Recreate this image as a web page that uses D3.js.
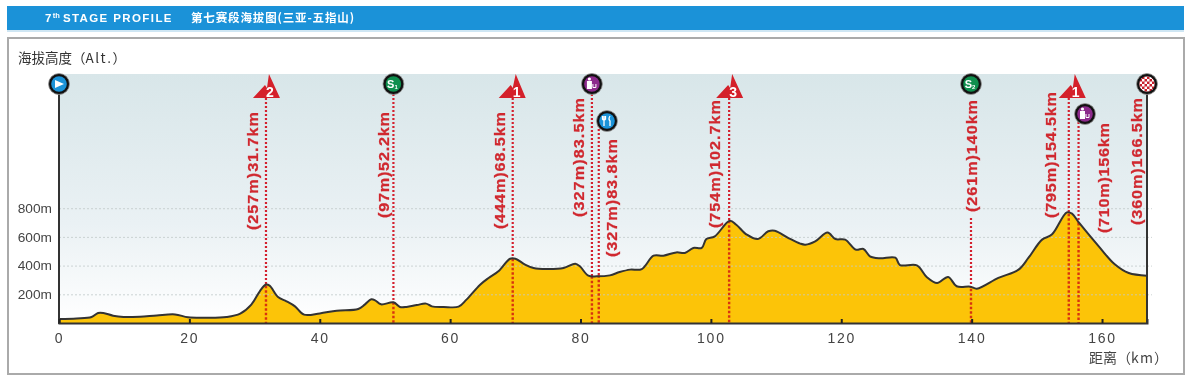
<!DOCTYPE html>
<html>
<head>
<meta charset="utf-8">
<script src="https://cdn.jsdelivr.net/npm/d3@7"></script>
<style>
  html, body { margin: 0; padding: 0; background: #fff; }
  svg { display: block; filter: blur(0.4px); }
  text { font-family: "Liberation Sans", Arial, sans-serif; }
  .cjk { font-family: "Noto Sans CJK SC", sans-serif; }
</style>
</head>
<body>
<script>
// elevation profile
const profileKm = [0, 2.7, 5, 6, 6.8, 8.3, 9.9, 12.4, 15, 17.8, 19.8, 22.6, 25.7, 27.8, 29.5, 30.8, 31.7, 32.3, 33.6, 34.9, 36.2, 37.6,
  40, 42.6, 45.9, 46.9, 47.9, 48.5, 49.4, 51.3, 52.3, 53.3, 54.9, 56.3, 57.2, 59, 61.3, 62.5, 64.6, 65.9, 67.4, 69.2, 70, 71.5, 72.8,
  74.8, 77.4, 79.2, 79.9, 81.2, 82.5, 84.5, 86, 87.6, 89.4, 91.2, 92.7, 94.7, 96, 97.3, 98.6, 99.3, 100.6, 102.9, 103.9, 105.5, 107.2,
  108.8, 109.8, 111.9, 113.7, 114.5, 116, 117.9, 119.1, 120.6, 122.2, 123.4, 124.4, 125.9, 128.3, 129, 131.6, 133.1, 134.7, 136.4,
  137.7, 139.8, 140.8, 144.1, 147.2, 148.7, 150.8, 152.3, 154.6, 155.4, 156.5, 159.5, 162, 164.1, 166.9];
const profileAlt = [28, 32, 42, 70, 70, 51, 42, 44, 53, 60, 40, 37, 42, 65, 128, 221, 267, 260, 181, 151, 116, 58,
  67, 86, 98, 128, 165, 158, 130, 144, 112, 112, 125, 135, 116, 112, 114, 163, 267, 314, 360, 448, 448, 407, 383,
  376, 383, 413, 395, 330, 325, 332, 355, 372, 376, 469, 469, 492, 488, 523, 523, 585, 604, 713, 685, 616, 585,
  639, 643, 592, 553, 546, 569, 630, 585, 581, 511, 516, 465, 451, 455, 404, 402, 321, 279, 321,
  256, 253, 239, 314, 372, 453, 581, 616, 771, 762, 697, 534, 407, 348, 330];

const kmTicks = [0, 20, 40, 60, 80, 100, 120, 140, 160];
const altTicks = [200, 400, 600, 800];

// race points, km is where the mark sits on the axis
const markerKm = [31.75, 51.3, 69.6, 81.75, 82.8, 102.8, 139.9, 154.9, 156.4];
const markerLabels = ["(257m)31.7km", "(97m)52.2km", "(444m)68.5km", "(327m)83.5km", "(327m)83.8km",
  "(754m)102.7km", "(261m)140km", "(795m)154.5km", "(710m)156km"];
const markerKinds = ["2", "S1", "1", "wc", "food", "3", "S2", "1", "wc"];
const finishKm = 166.9;
const finishLabel = "(360m)166.5km";

// label placement: centre x, top y, bottom y
const labelBoxes = [[253, 112, 230], [384, 112, 218], [500, 112, 229], [579, 98, 217], [612, 139, 257],
  [715, 100, 228], [972, 100, 212], [1051, 92, 218], [1104, 123, 233], [1137, 98, 225]];

const width = 1192, height = 384;
const plotTop = 74, baseY = 323;

const svg = d3.select("body").append("svg").attr("width", width).attr("height", height);
const defs = svg.append("defs");

const sky = defs.append("linearGradient").attr("id", "sky").attr("x1", 0).attr("y1", 0).attr("x2", 0).attr("y2", 1);
sky.append("stop").attr("offset", "0%").attr("stop-color", "#d8e6e9");
sky.append("stop").attr("offset", "60%").attr("stop-color", "#eaf1f4");
sky.append("stop").attr("offset", "100%").attr("stop-color", "#ffffff");

const check = defs.append("pattern").attr("id", "check").attr("width", 5).attr("height", 5)
  .attr("patternUnits", "userSpaceOnUse");
check.append("rect").attr("width", 5).attr("height", 5).attr("fill", "#c8202c");
check.append("rect").attr("width", 2.5).attr("height", 2.5).attr("fill", "#fff");
check.append("rect").attr("x", 2.5).attr("y", 2.5).attr("width", 2.5).attr("height", 2.5).attr("fill", "#fff");

// header band
svg.append("rect").attr("x", 7).attr("y", 6).attr("width", 1177).attr("height", 24).attr("fill", "#1b92d8");
svg.append("rect").attr("x", 7).attr("y", 30).attr("width", 1177).attr("height", 2).attr("fill", "#cfe6f3");
const head = svg.append("text").attr("x", 45).attr("y", 22).attr("fill", "#fff")
  .attr("font-weight", "bold").attr("font-size", 11.5).attr("letter-spacing", 1.4);
head.append("tspan").text("7");
head.append("tspan").attr("dy", -4).attr("font-size", 7.5).attr("letter-spacing", 0).text("th");
head.append("tspan").attr("dy", 4).attr("dx", 3).text("STAGE PROFILE");
svg.append("text").attr("class", "cjk").attr("x", 191).attr("y", 22).attr("fill", "#fff")
  .attr("font-weight", "bold").attr("font-size", 11.5).attr("textLength", 163).text("第七赛段海拔图(三亚-五指山)");

// frame
svg.append("rect").attr("x", 8).attr("y", 38).attr("width", 1176).attr("height", 336)
  .attr("fill", "#fff").attr("stroke", "#aaaaaa").attr("stroke-width", 2);

const altTitle = svg.append("text").attr("class", "cjk").attr("x", 18).attr("y", 63).attr("font-size", 13.5).attr("fill", "#333");
altTitle.append("tspan").text("海拔高度（");
altTitle.append("tspan").attr("letter-spacing", 1.5).text("Alt.");
altTitle.append("tspan").text("）");
const kmTitle = svg.append("text").attr("class", "cjk").attr("x", 1089).attr("y", 363).attr("font-size", 14).attr("fill", "#444");
kmTitle.append("tspan").text("距离（");
kmTitle.append("tspan").attr("letter-spacing", 1.2).text("km");
kmTitle.append("tspan").text("）");

// scales
const x = d3.scaleLinear().domain([0, finishKm]).range([59, 1147]);
const y = d3.scaleLinear().domain([0, 800]).range([baseY, 208.2]);

svg.append("rect").attr("x", x(0)).attr("y", plotTop).attr("width", x(finishKm) - x(0)).attr("height", baseY - plotTop)
  .attr("fill", "url(#sky)");

const points = profileKm.map((km, i) => [km, profileAlt[i]]);
const curve = d3.curveCatmullRom.alpha(0.5);
svg.append("path").datum(points)
  .attr("fill", "#fcc408")
  .attr("d", d3.area().x(d => x(d[0])).y0(baseY).y1(d => y(d[1])).curve(curve));

// y axis with the dotted grid
const yAxis = svg.append("g").attr("transform", "translate(" + x(0) + ",0)")
  .call(d3.axisLeft(y).tickValues(altTicks).tickFormat(d => d + "m").tickSize(-1093).tickPadding(7));
yAxis.select(".domain").remove();
yAxis.selectAll("line").attr("stroke", "#c2c9c9").attr("stroke-opacity", 0.8).attr("stroke-dasharray", "2 2");
yAxis.selectAll("text").attr("font-size", 13.7).attr("fill", "#444").style("font-family", "Liberation Sans");

// race point lines, redder above the profile and more orange inside it
const lineTops = { "2": 98, "1": 98, "3": 98, S1: 94, S2: 218, wc: 94, food: 121 };
markerKm.forEach((km, i) => {
  const top = i === 8 ? 114 : lineTops[markerKinds[i]];
  const alt = y(profileAlt[d3.bisectLeft(profileKm, km)]);
  svg.append("line").attr("x1", x(km)).attr("x2", x(km)).attr("y1", top).attr("y2", alt)
    .attr("stroke", "#d4202e").attr("stroke-width", 2.2).attr("stroke-dasharray", "2 2");
  svg.append("line").attr("x1", x(km)).attr("x2", x(km)).attr("y1", alt).attr("y2", baseY)
    .attr("stroke", "#d8330f").attr("stroke-width", 2.4).attr("stroke-dasharray", "2.5 2");
});

// profile outline and side lines
svg.append("path").datum(points)
  .attr("fill", "none").attr("stroke", "#333").attr("stroke-width", 2)
  .attr("d", d3.line().x(d => x(d[0])).y(d => y(d[1])).curve(curve));
svg.append("line").attr("x1", x(0)).attr("x2", x(0)).attr("y1", 90).attr("y2", baseY + 1).attr("stroke", "#333").attr("stroke-width", 2);
svg.append("line").attr("x1", x(finishKm)).attr("x2", x(finishKm)).attr("y1", 90).attr("y2", baseY + 1).attr("stroke", "#333").attr("stroke-width", 2);

// x axis, ticks point up
const xAxis = svg.append("g").attr("transform", "translate(0," + baseY + ")")
  .call(d3.axisBottom(x).tickValues(kmTicks).tickSize(-4).tickPadding(10));
xAxis.select(".domain").attr("stroke", "#333").attr("stroke-width", 2);
xAxis.selectAll("line").attr("stroke", "#222").attr("stroke-width", 2);
xAxis.selectAll("text").attr("font-size", 14).attr("fill", "#444").attr("letter-spacing", 1.8).style("font-family", "Liberation Sans");

// rotated labels, a bit wider than the font and with some air between letters
const labelStretch = 1.08;
markerLabels.concat(finishLabel).forEach((label, i) => {
  const b = labelBoxes[i];
  svg.append("text")
    .attr("transform", "translate(" + b[0] + "," + b[2] + ") rotate(-90) scale(" + labelStretch + ",1)")
    .attr("dy", "0.36em")
    .attr("font-size", 15).attr("font-weight", "bold").attr("fill", "#d0282f")
    .attr("stroke", "#d0282f").attr("stroke-width", 0.25)
    .attr("textLength", (b[2] - b[1]) / labelStretch).attr("lengthAdjust", "spacing")
    .text(label);
});

// icons
function ball(cx, cy, fill) {
  const g = svg.append("g").attr("transform", "translate(" + cx + "," + cy + ")");
  g.append("circle").attr("r", 10.5).attr("fill", "#111").attr("stroke", "#999").attr("stroke-width", 0.8);
  g.append("circle").attr("r", 7.8).attr("fill", fill);
  return g;
}
function climb(cx, label, peak, left, right) {
  const g = svg.append("g").attr("transform", "translate(" + cx + ",0)");
  const path = d3.path();
  path.moveTo(left, 98); path.lineTo(left + 12, 85); path.lineTo(left + 14, 88);
  path.lineTo(peak, 74); path.lineTo(right, 98); path.closePath();
  g.append("path").attr("d", path.toString()).attr("fill", "#d4202a");
  g.append("text").attr("x", peak + 1).attr("y", 97).attr("text-anchor", "middle")
    .attr("font-size", 14).attr("font-weight", "bold").attr("fill", "#fff").text(label);
}
function sprint(cx, cy, sub) {
  const g = ball(cx, cy, "#0f8f4e");
  const t = g.append("text").attr("y", 4).attr("x", -1).attr("text-anchor", "middle").attr("fill", "#fff")
    .attr("font-size", 11).attr("font-weight", "bold");
  t.append("tspan").text("S");
  t.append("tspan").attr("font-size", 6).attr("dy", 1).text(sub);
}
function toilet(cx, cy) {
  const g = ball(cx, cy, "#8c2a8c");
  g.append("circle").attr("cx", -2.5).attr("cy", -5).attr("r", 1.6).attr("fill", "#fff");
  g.append("rect").attr("x", -5).attr("y", -3).attr("width", 5).attr("height", 8).attr("fill", "#fff");
  g.append("path").attr("d", "M1,0 v3.5 h3 v-3.5").attr("fill", "none").attr("stroke", "#fff");
}
function food(cx, cy) {
  const g = ball(cx, cy, "#1b93d8");
  g.append("path").attr("d", "M-3,-5 v10 M-4.5,-5 v3 q1.5,2 3,0 v-3 M3,-5 q-2,3 0,5 v5").attr("fill", "none").attr("stroke", "#fff").attr("stroke-width", 1.3);
}

climb(x(markerKm[0]), "2", 3, -13, 14);
sprint(x(markerKm[1]), 84, "1");
climb(x(markerKm[2]), "1", 3, -14, 13);
toilet(x(markerKm[3]), 84);
food(607, 121);
climb(x(markerKm[5]), "3", 3, -13, 14);
sprint(x(markerKm[6]), 84, "2");
climb(x(markerKm[7]), "1", 6, -10, 17);
toilet(1085, 114);

const start = ball(x(0), 84, "#1b93d8");
start.append("path").attr("d", "M-4,-4 L5,0 L-4,4 Z").attr("fill", "#fff");
ball(x(finishKm), 84, "url(#check)");
</script>
</body>
</html>
